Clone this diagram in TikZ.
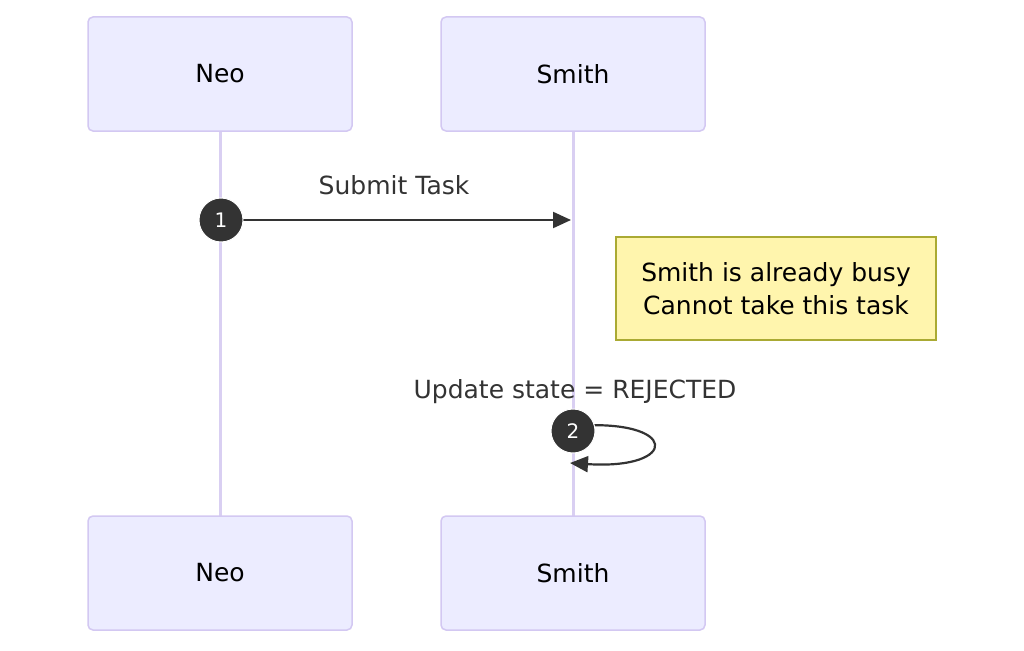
\documentclass[tikz,border=0pt]{standalone}
\usepackage{fontspec}
\setmainfont{DejaVu Sans}
\usetikzlibrary{arrows.meta}
\definecolor{actfill}{HTML}{ECECFF}
\definecolor{actdraw}{HTML}{D3C8F2}
\definecolor{lifeline}{HTML}{D9CFF2}
\definecolor{notefill}{HTML}{FFF5AD}
\definecolor{notedraw}{HTML}{AAAA33}
\definecolor{ink}{HTML}{333333}
\tikzset{
  actor/.style={draw=actdraw, line width=1.5pt, fill=actfill, rounded corners=5pt,
    minimum width=264pt, minimum height=114pt, font=\fontsize{25}{30}\selectfont, text=black},
  life/.style={draw=lifeline, line width=3pt},
  msg/.style={draw=ink, line width=2.2pt, -{Triangle[length=18pt,width=16pt]}},
  marker/.style={circle, fill=ink, draw=white, line width=1pt, minimum size=44pt, inner sep=0pt,
    text=white, font=\fontsize{20}{24}\selectfont},
  msglabel/.style={font=\fontsize{25}{30}\selectfont, text=ink},
  note/.style={draw=notedraw, line width=1.5pt, fill=notefill, minimum width=320pt, minimum height=103pt,
    align=center, font=\fontsize{25}{33}\selectfont, text=black}
}
\begin{document}
\begin{tikzpicture}[x=1pt,y=-1pt]
\useasboundingbox (0,0) rectangle (1024,650);
\fill[white] (0,0) rectangle (1024,650);
% lifelines
\coordinate (nt) at (220,131); \coordinate (nb) at (220,516);
\coordinate (st) at (573,131); \coordinate (sb) at (573,516);
\draw[life] (nt) -- (nb);
\draw[life] (st) -- (sb);
% actors
\node[actor] (neoTop) at (220,74) {Neo};
\node[actor] (smithTop) at (573,74) {Smith};
\node[actor] (neoBot) at (220,573) {Neo};
\node[actor] (smithBot) at (573,573) {Smith};
% message 1
\coordinate (m1s) at (221,220);
\coordinate (m1e) at (571,220);
\draw[msg] (m1s) -- (m1e);
\node[msglabel] (l1) at (394,185) {Submit Task};
\node[marker] (k1) at (m1s) {1};
% note
\node[note] (n1) at (776,288.5) {Smith is already busy\\Cannot take this task};
% message 2 self
\node[msglabel] (l2) at (575,392) {Update state = REJECTED};
\coordinate (m2s) at (573,426);
\coordinate (m2e) at (570,463);
\draw[msg] (m2s) .. controls (680,418) and (680,470) .. (m2e);
\node[marker] (k2) at (573,431) {2};
\end{tikzpicture}
\end{document}
